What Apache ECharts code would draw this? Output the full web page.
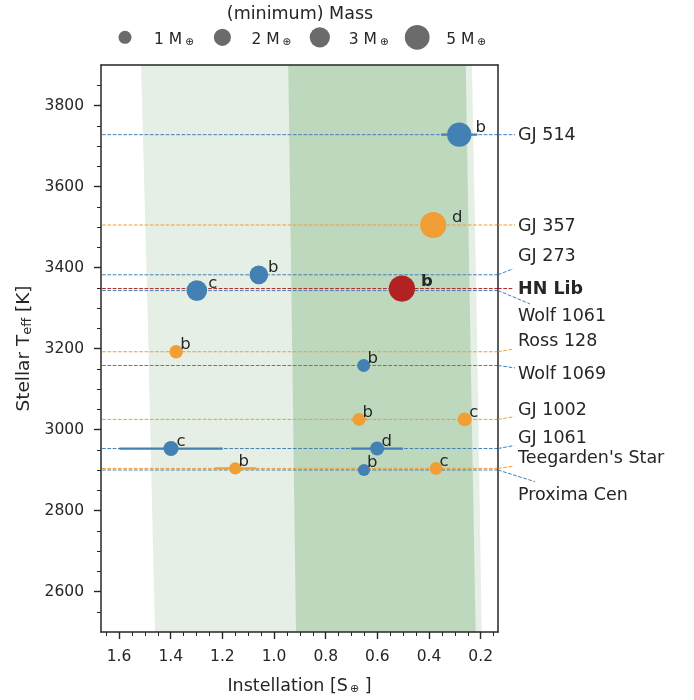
<!DOCTYPE html>
<html><head><meta charset="utf-8">
<script src="https://cdn.jsdelivr.net/npm/echarts@6/dist/echarts.min.js"></script>
<style>html,body{margin:0;padding:0;background:#fff}#c{width:694px;height:700px}</style>
</head><body><div id="c"></div>
<script>
// ---------------- data ----------------
const starNames = ['GJ 514', 'GJ 357', 'GJ 273', 'HN Lib', 'Wolf 1061', 'Ross 128', 'Wolf 1069', 'GJ 1002', 'GJ 1061', "Teegarden's Star", 'Proxima Cen'];
const starTeff = [3728, 3505, 3382, 3348, 3343, 3192, 3158, 3025, 2953, 2904, 2900];

const planetStar = [0, 1, 2, 3, 4, 5, 6, 7, 7, 8, 8, 9, 9, 10];
const planetLetters = ['b', 'd', 'b', 'b', 'c', 'b', 'b', 'b', 'c', 'c', 'd', 'b', 'c', 'b'];
const planetInstellation = [0.283, 0.384, 1.059, 0.505, 1.299, 1.379, 0.653, 0.671, 0.262, 1.399, 0.601, 1.150, 0.373, 0.652];
const planetInstErr = [0.07, 0, 0, 0, 0, 0, 0, 0.03, 0, 0.20, 0.10, 0.08, 0, 0];
const planetMass = [4.8, 5.7, 2.5, 5.8, 3.2, 1.1, 1.0, 0.95, 1.2, 1.45, 1.2, 0.9, 0.95, 0.85];

const legendMass = [1, 2, 3, 5];

// habitable zone edges (instellation) at given Teff
const hzTeff = [2500, 3300, 3900];
const hzOptInner = [1.461, 1.490, 1.515];
const hzOptOuter = [0.196, 0.216, 0.234];
const hzConsInner = [0.915, 0.932, 0.945];
const hzConsOuter = [0.2196, 0.242, 0.258];

const xTickValues = [1.6, 1.4, 1.2, 1.0, 0.8, 0.6, 0.4, 0.2];
const xMinorTickValues = [0.15, 0.25, 0.3, 0.35, 0.45, 0.5, 0.55, 0.65, 0.7, 0.75, 0.85, 0.9, 0.95, 1.05, 1.1, 1.15, 1.25, 1.3, 1.35, 1.45, 1.5, 1.55, 1.65];
const yTickValues = [2600, 2800, 3000, 3200, 3400, 3600, 3800];
const yMinorTickValues = [2550, 2650, 2700, 2750, 2850, 2900, 2950, 3050, 3100, 3150, 3250, 3300, 3350, 3450, 3500, 3550, 3650, 3700, 3750, 3850];

const xMin = 0.133, xMax = 1.67, yMin = 2500, yMax = 3900;

// ---------------- styles / layout ----------------
const BLUE = '#4380b3', ORANGE = '#f09e35', RED = '#b22222';
const starColors = [BLUE, ORANGE, BLUE, RED, BLUE, ORANGE, BLUE, ORANGE, BLUE, ORANGE, BLUE];
const starLabelDy = [1, 1, -18.5, 1, 26, -10.5, 8.5, -9, -10.5, -9.8, 25];
const starLeaderEnd = [[17, 0], [17, 0], [15, -6], [15, 0], [32, 13.3], [15, -2.6], [17, 2.4], [16, -2.7], [16, -3], [16, -2.4], [37, 11.7]];
const FONT = 'DejaVu Sans';
const TXT = '#262626';
const DASH = [3.7, 1.6];
const sizeOf = m => 13 * Math.pow(m, 0.4);

const chart = echarts.init(document.getElementById('c'));

const hzSeries = (inner, outer, color) => ({
  type: 'custom', xAxisIndex: 0, yAxisIndex: 0, silent: true, z: 0, clip: true,
  data: [[inner[0], hzTeff[0]]],
  renderItem: (params, api) => {
    const pts = [];
    for (let i = 0; i < hzTeff.length; i++) pts.push(api.coord([inner[i], hzTeff[i]]));
    for (let i = hzTeff.length - 1; i >= 0; i--) pts.push(api.coord([outer[i], hzTeff[i]]));
    return { type: 'polygon', shape: { points: pts }, style: { fill: color } };
  }
});

const series = [
  hzSeries(hzOptInner, hzOptOuter, '#e5efe5'),
  hzSeries(hzConsInner, hzConsOuter, '#bdd8bd')
];

starTeff.forEach((t, i) => {
  series.push({
    type: 'line', xAxisIndex: 0, yAxisIndex: 0, silent: true, symbol: 'none', z: 3,
    data: [[xMin, t], [xMax, t]],
    lineStyle: { color: starColors[i], width: 1, type: DASH, opacity: 1 }
  });
});

series.push({
  type: 'custom', xAxisIndex: 0, yAxisIndex: 0, silent: true, z: 4,
  data: planetInstellation.map((s, i) => [s, starTeff[planetStar[i]], planetInstErr[i]]),
  renderItem: (params, api) => {
    const e = api.value(2);
    if (!e) return null;
    const x = api.value(0), y = api.value(1);
    const p1 = api.coord([x - e, y]), p2 = api.coord([x + e, y]);
    return { type: 'line', shape: { x1: p1[0], y1: p1[1], x2: p2[0], y2: p2[1] },
      style: { stroke: starColors[planetStar[params.dataIndex]], lineWidth: 2.2 } };
  }
});

series.push({
  type: 'scatter', xAxisIndex: 0, yAxisIndex: 0, z: 5, silent: true,
  symbolSize: v => sizeOf(v[2]),
  data: planetInstellation.map((s, i) => {
    const d = sizeOf(planetMass[i]);
    return {
      value: [s, starTeff[planetStar[i]], planetMass[i]],
      itemStyle: { color: starColors[planetStar[i]], opacity: 1 },
      label: {
        show: true, formatter: planetLetters[i], position: 'inside', align: 'left', verticalAlign: 'middle',
        offset: [0.0296 * d * d - 1.3, -7], fontSize: 16.5, fontFamily: FONT, color: TXT,
        fontWeight: planetStar[i] === 3 ? 'bold' : 'normal'
      }
    };
  })
});

const axisLineStyle = { color: TXT, width: 1.5 };
const option = {
  animation: false,
  backgroundColor: '#fff',
  grid: { left: 101, top: 65, width: 397, height: 572, containLabel: false },
  xAxis: [
    { type: 'value', min: xMin, max: xMax, inverse: true, position: 'bottom', z: 10,
      axisLine: { show: true, lineStyle: axisLineStyle, onZero: false },
      axisTick: { show: true, customValues: xTickValues, length: 7, lineStyle: { color: TXT, width: 1.4 } },
      axisLabel: { show: true, customValues: xTickValues, formatter: v => v.toFixed(1), fontSize: 15.5, fontFamily: FONT, color: TXT, margin: 17 },
      splitLine: { show: false },
      name: '{n|Instellation [S}{s|⊕}{n| ]}', nameLocation: 'middle', nameGap: 41,
      nameTextStyle: { rich: {
        n: { fontSize: 17.5, fontFamily: FONT, color: TXT, lineHeight: 22, verticalAlign: 'bottom' },
        s: { fontSize: 11, fontFamily: FONT, color: TXT, lineHeight: 12, verticalAlign: 'bottom', padding: [0, 0, 0, 2] } } }
    },
    { type: 'value', min: xMin, max: xMax, inverse: true, position: 'bottom', z: 10,
      axisLine: { show: false, onZero: false },
      axisTick: { show: true, customValues: xMinorTickValues, length: 4, lineStyle: { color: TXT, width: 1 } },
      axisLabel: { show: false }, splitLine: { show: false } },
    { type: 'value', min: xMin, max: xMax, inverse: true, position: 'top', z: 10,
      axisLine: { show: true, lineStyle: axisLineStyle, onZero: false },
      axisTick: { show: false }, axisLabel: { show: false }, splitLine: { show: false } }
  ],
  yAxis: [
    { type: 'value', min: yMin, max: yMax, position: 'left', z: 10,
      axisLine: { show: true, lineStyle: axisLineStyle, onZero: false },
      axisTick: { show: true, customValues: yTickValues, length: 7, lineStyle: { color: TXT, width: 1.4 } },
      axisLabel: { show: true, customValues: yTickValues, formatter: v => String(Math.round(v)), fontSize: 15.5, fontFamily: FONT, color: TXT, margin: 17 },
      splitLine: { show: false },
      name: '{n|Stellar T}{s|eff}{n| [K]}', nameLocation: 'middle', nameGap: 59, nameRotate: 90,
      nameTextStyle: { rich: {
        n: { fontSize: 18.5, fontFamily: FONT, color: TXT, lineHeight: 22, verticalAlign: 'bottom' },
        s: { fontSize: 13, fontFamily: FONT, color: TXT, lineHeight: 13, verticalAlign: 'bottom' } } }
    },
    { type: 'value', min: yMin, max: yMax, position: 'left', z: 10,
      axisLine: { show: false, onZero: false },
      axisTick: { show: true, customValues: yMinorTickValues, length: 4, lineStyle: { color: TXT, width: 1 } },
      axisLabel: { show: false }, splitLine: { show: false } },
    { type: 'value', min: yMin, max: yMax, position: 'right', z: 10,
      axisLine: { show: true, lineStyle: axisLineStyle, onZero: false },
      axisTick: { show: false }, axisLabel: { show: false }, splitLine: { show: false } }
  ],
  series: series
};
chart.setOption(option);

// ---------- star labels with leader lines, and size legend ----------
const gfx = [];
const xRight = chart.convertToPixel({ xAxisIndex: 0 }, xMin);
starNames.forEach((name, i) => {
  const y = chart.convertToPixel({ yAxisIndex: 0 }, starTeff[i]);
  const [ex, ey] = starLeaderEnd[i];
  gfx.push({ type: 'line', silent: true, z: 20,
    shape: { x1: xRight, y1: y, x2: xRight + ex, y2: y + ey },
    style: { stroke: starColors[i], lineWidth: 1, lineDash: DASH } });
  gfx.push({ type: 'text', silent: true, z: 20, x: xRight + 20, y: y + starLabelDy[i],
    style: { text: name, fontSize: 17.5, fontFamily: FONT, fill: TXT,
      fontWeight: i === 3 ? 'bold' : 'normal', align: 'left', verticalAlign: 'middle' } });
});

gfx.push({ type: 'text', silent: true, x: 300, y: 14,
  style: { text: '(minimum) Mass', fontSize: 17.5, fontFamily: FONT, fill: TXT, align: 'center', verticalAlign: 'middle' } });
legendMass.forEach((m, i) => {
  const cx = 125 + i * 97.4, cy = 37.3;
  gfx.push({ type: 'circle', silent: true, shape: { cx: cx, cy: cy, r: sizeOf(m) / 2 }, style: { fill: '#6b6b6b' } });
  gfx.push({ type: 'text', silent: true, x: cx + 29, y: cy + 0.5,
    style: { text: '{n|' + m + ' M}{s|⊕}', align: 'left', verticalAlign: 'middle',
      rich: {
        n: { fontSize: 15.5, fontFamily: FONT, fill: TXT, lineHeight: 20, verticalAlign: 'bottom' },
        s: { fontSize: 10.5, fontFamily: FONT, fill: TXT, lineHeight: 11, verticalAlign: 'bottom', padding: [0, 0, 0, 3] }
      } } });
});
chart.setOption({ graphic: gfx });
</script>
</body></html>
